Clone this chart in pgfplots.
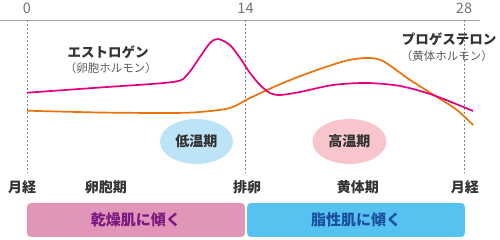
\documentclass[border=0pt]{standalone}
\usepackage{pgfplots}
\pgfplotsset{compat=1.18}
\usepackage{fontspec}
\setmainfont{Noto Sans CJK JP}
\definecolor{epink}{HTML}{E6007E}
\definecolor{porange}{HTML}{EB7108}
\definecolor{boxpink}{HTML}{E195B8}
\definecolor{boxblue}{HTML}{55C2F0}
\definecolor{ellblue}{HTML}{BDE3F7}
\definecolor{ellpink}{HTML}{F7C5CB}
\definecolor{txt}{HTML}{333333}
\definecolor{purp}{HTML}{7A1A80}
\definecolor{dblue}{HTML}{1C4F9E}
\begin{document}
\begin{tikzpicture}
\begin{axis}[
  scale only axis, width=500pt, height=240pt,
  xmin=-1.730, xmax=30.307, ymin=0, ymax=240,
  hide axis, clip=false,
]
% top axis line and ticks
\draw[color=black!35, line width=0.8pt] (axis cs:-1.73,220) -- (axis cs:29.03,220);
\foreach \d in {0,14,28}{
  \edef\tmp{\noexpand\draw[color=black!50, dashed, line width=0.6pt, dash pattern=on 2pt off 2pt] (axis cs:\d,220) -- (axis cs:\d,67);}\tmp
  \edef\tmp{\noexpand\node[color=black!55, font=\noexpand\fontsize{14.5}{14.5}\noexpand\selectfont] at (axis cs:\d,231.5) {\d};}\tmp
}
% ellipses
\fill[ellblue] (axis cs:10.86,98.5) ellipse [x radius=36.5pt, y radius=22.5pt];
\fill[ellpink] (axis cs:20.66,98.5) ellipse [x radius=37pt, y radius=22.5pt];
\node[color=txt, font=\fontsize{14}{14}\selectfont\bfseries] at (axis cs:10.86,98.5) {低温期};
\node[color=txt, font=\fontsize{14}{14}\selectfont\bfseries] at (axis cs:20.66,98.5) {高温期};
% curves
\addplot[color=porange, line width=1.7pt, smooth, tension=0.5] coordinates {
(0,129.3) (4.68,127.5) (9.16,127) (11.08,128) (13.0,132) (14.29,142) (16.4,157) (18.58,170) (20.5,179.5) (21.8,182) (22.8,179) (24.55,160) (26.27,143) (27.55,130) (28.58,115)
};
\addplot[color=epink, line width=1.7pt, smooth, tension=0.5] coordinates {
(0,147.3) (4.68,152.5) (9.35,158) (10.25,165) (11.08,183) (11.73,197) (12.24,201) (13.0,195) (13.65,182) (14.29,167) (14.93,155) (15.57,147) (16.21,145) (17.49,148) (19.6,155) (21.78,157) (23.9,154) (26.01,145) (28.58,129)
};
% hormone labels
\node[color=txt, font=\fontsize{13.5}{13.5}\selectfont\bfseries] at (axis cs:5.19,188) {エストロゲン};
\node[color=black!65, font=\fontsize{11.5}{11.5}\selectfont] at (axis cs:5.38,172) {（卵胞ホルモン）};
\node[color=txt, font=\fontsize{13.5}{13.5}\selectfont\bfseries] at (axis cs:27.04,201) {プロゲステロン};
\node[color=black!65, font=\fontsize{11.5}{11.5}\selectfont] at (axis cs:26.9,184) {（黄体ホルモン）};
% phase labels
\foreach \xx/\lab in {-0.32/月経, 5.06/卵胞期, 14.1/排卵, 21.2/黄体期, 28.06/月経}{
  \edef\tmp{\noexpand\node[color=txt, font=\noexpand\fontsize{14}{14}\noexpand\selectfont\noexpand\bfseries] at (axis cs:\xx,53) {\lab};}\tmp
}
% boxes
\fill[boxpink, rounded corners=4pt] (axis cs:0,37) rectangle (axis cs:13.97,3);
\fill[boxblue, rounded corners=4pt] (axis cs:14.1,37) rectangle (axis cs:28.06,3);
\node[color=purp, font=\fontsize{15}{15}\selectfont\bfseries] at (axis cs:6.98,20) {乾燥肌に傾く};
\node[color=dblue, font=\fontsize{15}{15}\selectfont\bfseries] at (axis cs:21.08,20) {脂性肌に傾く};
\end{axis}
\pgfresetboundingbox
\path (current axis.south west) rectangle (current axis.north east);
\end{tikzpicture}
\end{document}
